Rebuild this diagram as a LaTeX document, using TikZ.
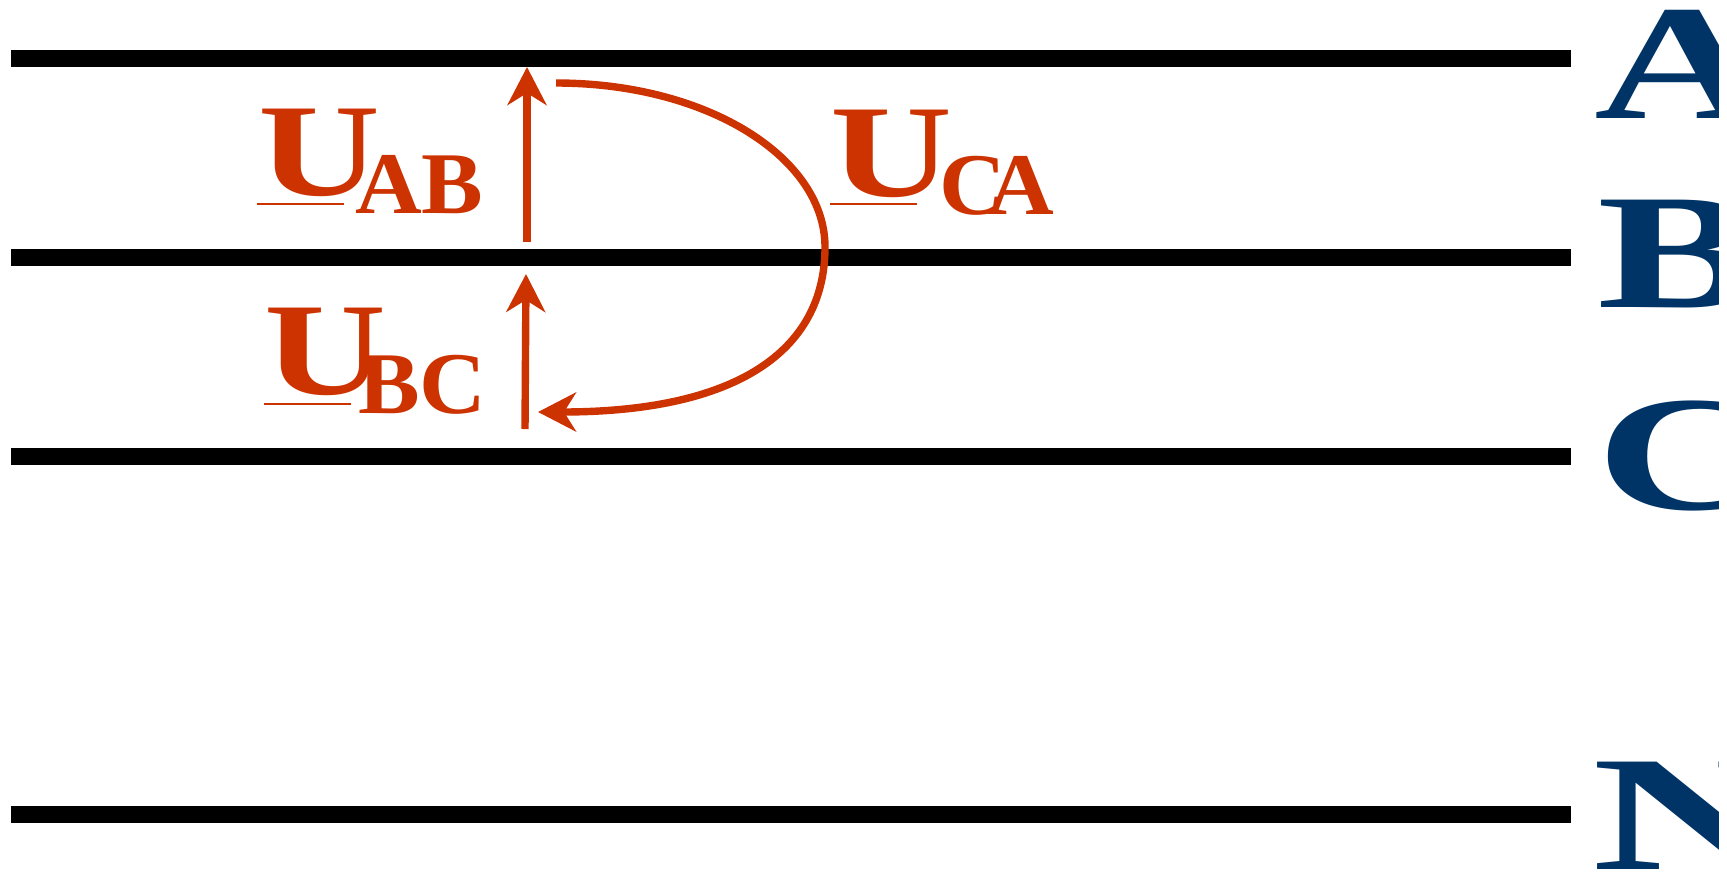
\documentclass[tikz,border=0pt]{standalone}
\usepackage{fontspec}
\setmainfont{Liberation Serif}
\usetikzlibrary{arrows.meta}
\definecolor{vred}{RGB}{204,51,0}
\definecolor{navy}{RGB}{0,51,102}
\begin{document}
\begin{tikzpicture}[x=0.5pt,y=-0.5pt,
  bus/.style={line width=8.5pt,black},
  volt/.style={vred,line width=3.7pt,-{Stealth[length=19pt,width=19.5pt,inset=6pt]}},
  bigU/.style={inner sep=0pt,outer sep=0pt,anchor=base west,text=vred,font=\bfseries\fontsize{66}{66}\selectfont},
  subs/.style={inner sep=0pt,outer sep=0pt,anchor=base west,text=vred,font=\bfseries\fontsize{44}{44}\selectfont},
  phase/.style={inner sep=0pt,outer sep=0pt,anchor=base west,text=navy,font=\bfseries\fontsize{82}{82}\selectfont},
  uline/.style={vred,line width=1.4pt}]
\useasboundingbox (0,0) rectangle (1727,874);
% bus bars
\coordinate (a1) at (11,58.5);  \coordinate (a2) at (1571,58.5);
\coordinate (b1) at (11,257.5); \coordinate (b2) at (1571,257.5);
\coordinate (c1) at (11,456.5); \coordinate (c2) at (1571,456.5);
\coordinate (n1) at (11,814.5); \coordinate (n2) at (1571,814.5);
\draw[bus] (a1) -- (a2);
\draw[bus] (b1) -- (b2);
\draw[bus] (c1) -- (c2);
\draw[bus] (n1) -- (n2);
% phase letters
\begin{scope}
\clip (1500,0) rectangle (1718,874);
\node[phase] (pA) at (1594,118) {\scalebox{1.48}[1]{A}};
\node[phase] (pB) at (1597,307) {\scalebox{1.48}[1]{B}};
\node[phase] (pC) at (1596,509) {\scalebox{1.48}[1]{C}};
\node[phase] (pN) at (1592,869) {\scalebox{1.62}[1]{N}};
\end{scope}
% voltage arrows
\coordinate (ab0) at (527,242); \coordinate (ab1) at (527,67);
\coordinate (bc0) at (525,429); \coordinate (bc1) at (526,274);
\coordinate (ca0) at (556,83); \coordinate (ca1) at (825,247); \coordinate (ca2) at (538,412);
\draw[volt] (ab0) -- (ab1);
\draw[volt] (bc0) -- (bc1);
\draw[volt] (ca0) .. controls (708,83) and (825,158) .. (ca1) .. controls (825,352) and (735,412) .. (ca2);
% labels
\node[bigU] (uab) at (258,195) {\scalebox{1.28}[1]{U}};
\node[subs] (uabs) at (355,213) {\scalebox{1.05}[1]{AB}};
\coordinate (uabl1) at (257,204); \coordinate (uabl2) at (344,204);
\draw[uline] (uabl1) -- (uabl2);
\node[bigU] (ubc) at (264,394) {\scalebox{1.28}[1]{U}};
\node[subs] (ubcs) at (358,413) {\scalebox{1.05}[1]{BC}};
\coordinate (ubcl1) at (264,404); \coordinate (ubcl2) at (351,404);
\draw[uline] (ubcl1) -- (ubcl2);
\node[bigU] (uca) at (830,196) {\scalebox{1.28}[1]{U}};
\node[subs] (ucas) at (939,214) {\scalebox{1.05}[1]{C\kern-8.5pt A}};
\coordinate (ucal1) at (830,204); \coordinate (ucal2) at (917,204);
\draw[uline] (ucal1) -- (ucal2);
\end{tikzpicture}
\end{document}
